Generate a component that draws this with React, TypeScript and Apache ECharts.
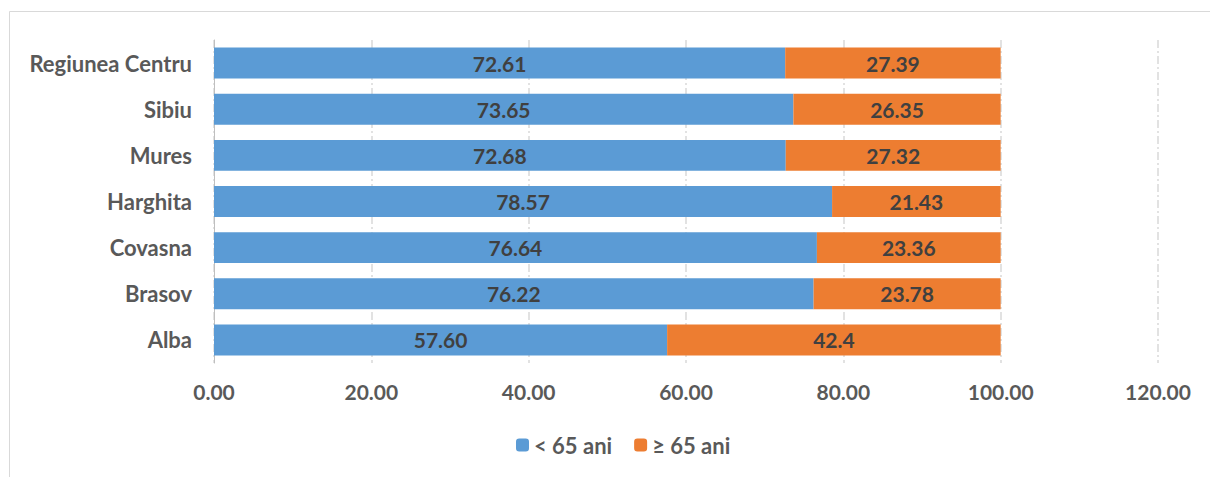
import React, { useEffect, useRef } from "react";
import * as echarts from "echarts";

const categories = ["Alba", "Brasov", "Covasna", "Harghita", "Mures", "Sibiu", "Regiunea Centru"];
const under65 = [57.6, 76.22, 76.64, 78.57, 72.68, 73.65, 72.61];
const over65 = [42.4, 23.78, 23.36, 21.43, 27.32, 26.35, 27.39];
const seriesNames = ["< 65 ani", "≥ 65 ani"];

const FONT = "Lato, 'Open Sans', sans-serif";

export default function App() {
  const ref = useRef<HTMLDivElement>(null);
  useEffect(() => {
    if (!ref.current) return;
    const chart = echarts.init(ref.current, null, { renderer: "svg" });
    chart.setOption({
      animation: false,
      backgroundColor: "#ffffff",
      graphic: [
        {
          type: "rect",
          shape: { x: 9.5, y: 11.5, width: 1300, height: 600 },
          style: { fill: "none", stroke: "#d9d9d9", lineWidth: 1 },
          silent: true,
        },
      ],
      grid: { left: 214, right: 52, top: 40, bottom: 114 },
      legend: {
        bottom: 16,
        left: 511,
        itemWidth: 13,
        itemHeight: 13,
        itemGap: 22,
        textStyle: { fontFamily: FONT, fontWeight: "bold", fontSize: 22, color: "#595959" },
        data: seriesNames,
      },
      xAxis: {
        type: "value",
        min: 0,
        max: 120,
        interval: 20,
        axisLine: { show: false },
        axisTick: { show: false },
        axisLabel: {
          formatter: (v: number) => v.toFixed(2),
          fontFamily: FONT,
          fontWeight: "bold",
          fontSize: 21,
          color: "#595959",
          margin: 18,
        },
        splitLine: {
          show: true,
          lineStyle: { color: "#d9d9d9", width: 1.5, type: [8, 3, 2, 3] },
        },
      },
      yAxis: {
        type: "category",
        data: categories,
        axisLine: { show: true, lineStyle: { color: "#bfbfbf", width: 1 } },
        axisTick: { show: false },
        axisLabel: {
          fontFamily: FONT,
          fontWeight: "bold",
          fontSize: 22,
          color: "#595959",
          margin: 22,
        },
      },
      series: [
        {
          name: seriesNames[0],
          type: "bar",
          stack: "total",
          barWidth: "67%",
          data: under65,
          itemStyle: { color: "#5b9bd5" },
          label: {
            show: true,
            position: "inside",
            formatter: (p: any) => Number(p.value).toFixed(2),
            fontFamily: FONT,
            fontWeight: "bold",
            fontSize: 21,
            color: "#404040",
          },
        },
        {
          name: seriesNames[1],
          type: "bar",
          stack: "total",
          barWidth: "67%",
          data: over65,
          itemStyle: { color: "#ed7d31" },
          label: {
            show: true,
            position: "inside",
            formatter: (p: any) => String(p.value),
            fontFamily: FONT,
            fontWeight: "bold",
            fontSize: 21,
            color: "#404040",
          },
        },
      ],
    });
    return () => chart.dispose();
  }, []);
  return (
    <div
      ref={ref}
      style={{ position: "fixed", left: 0, top: 0, width: 1210, height: 477 }}
    />
  );
}
